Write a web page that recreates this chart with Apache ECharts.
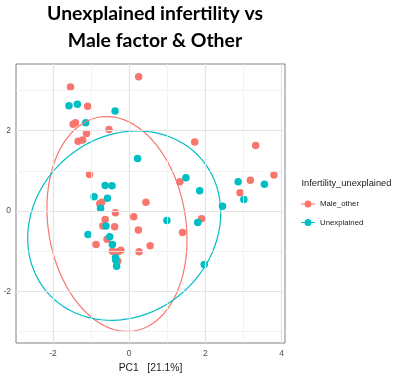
<!DOCTYPE html>
<html><head><meta charset="utf-8">
<script src="https://cdn.jsdelivr.net/npm/echarts@6/dist/echarts.min.js"></script>
<style>html,body{margin:0;padding:0;background:#fff}#c{width:409px;height:379px}</style>
</head><body><div id="c"></div>
<script>
// PCA scores [PC1, PC2]
const maleOther = [
  [-1.54,3.09],[0.25,3.34],[-1.09,2.61],[-1.47,2.16],[-1.41,2.20],[-0.53,2.03],
  [-1.12,1.93],[-1.34,1.74],[-1.22,1.77],[-1.04,0.91],[0.44,0.22],[-0.77,0.19],
  [-0.72,0.22],[-0.36,-0.04],[-0.63,-0.21],[0.12,-0.14],[-0.69,-0.37],[-0.38,-0.39],
  [0.24,-0.47],[-0.58,-0.70],[-0.87,-0.83],[0.55,-0.86],[-0.44,-1.00],[-0.22,-0.97],
  [-0.29,-1.01],[0.26,-1.01],[-0.30,-1.24],[1.72,1.72],[3.32,1.63],[1.33,0.73],
  [3.18,0.77],[3.80,0.90],[2.91,0.46],[1.90,-0.19],[1.40,-0.53]
];
const unexplained = [
  [-1.58,2.62],[-1.36,2.66],[-0.37,2.49],[-1.14,2.20],[0.22,1.31],[-0.63,0.64],
  [-0.45,0.63],[-0.92,0.36],[-0.57,0.32],[-0.75,0.07],[0.99,-0.23],[-0.61,-0.37],
  [-1.08,-0.58],[-0.51,-0.64],[-0.44,-0.83],[-0.36,-1.16],[-0.35,-1.22],[-0.33,-1.37],
  [1.49,0.83],[1.85,0.51],[2.86,0.73],[3.55,0.67],[3.01,0.29],[2.45,0.12],
  [1.80,-0.28],[1.97,-1.33]
];
const groupNames = ['Male_other','Unexplained'];
const xTicks = [-2,0,2,4];
const yTicks = [-2,0,2];
const xMinor = [-3,-1,1,3];
const yMinor = [-3,-1,1,3];
// ellipse: centre and shape matrix [sxx, sxy, syy] in data units
const maleEllipseCenter = [-0.32,-0.32];
const maleEllipseShape = [3.38,-0.72,7.15];
const unexpEllipseCenter = [-0.13,-0.36];
const unexpEllipseShape = [6.42,0.80,5.55];

const RED = '#F8766D', TEAL = '#00BFC4';

function ellipsePath(c, s, n) {
  const a = Math.sqrt(s[0]), b = s[1] / a, cc = Math.sqrt(s[2] - b * b);
  const out = [];
  for (let i = 0; i <= n; i++) {
    const t = 2 * Math.PI * i / n;
    out.push([c[0] + a * Math.cos(t), c[1] + b * Math.cos(t) + cc * Math.sin(t)]);
  }
  return out;
}

const gridLines = [];
xMinor.forEach(v => gridLines.push({xAxis: v, lineStyle: {color: '#F0F0F0', width: 0.8, type: 'solid'}}));
yMinor.forEach(v => gridLines.push({yAxis: v, lineStyle: {color: '#F0F0F0', width: 0.8, type: 'solid'}}));
xTicks.forEach(v => gridLines.push({xAxis: v, lineStyle: {color: '#E3E3E3', width: 1.2, type: 'solid'}}));
yTicks.forEach(v => gridLines.push({yAxis: v, lineStyle: {color: '#E3E3E3', width: 1.2, type: 'solid'}}));

const legendIcon = 'path://M0,3 L14,3 L14,4 L0,4 Z M10.5,3.5 A3.5,3.5 0 1 1 3.5,3.5 A3.5,3.5 0 1 1 10.5,3.5 Z';
const FONT = '"Liberation Sans", sans-serif';

const chart = echarts.init(document.getElementById('c'), null, {renderer: 'canvas'});
chart.setOption({
  animation: false,
  backgroundColor: '#fff',
  grid: {left: 16, right: 124, top: 64, bottom: 36, containLabel: false, outerBoundsMode: 'none',
         show: true, borderColor: '#808080', borderWidth: 1, backgroundColor: '#fff'},
  xAxis: {
    type: 'value', min: -2.97, max: 4.09,
    axisLine: {show: false},
    splitLine: {show: false},
    axisTick: {show: true, length: 3, customValues: xTicks, lineStyle: {color: '#333'}},
    axisLabel: {customValues: xTicks, margin: 6, fontFamily: FONT, fontSize: 8.5, color: '#4D4D4D'},
    name: 'PC1   [21.1%]', nameLocation: 'middle', nameGap: 16,
    nameTextStyle: {fontFamily: FONT, fontSize: 10.3, color: '#1a1a1a'}
  },
  yAxis: {
    type: 'value', min: -3.28, max: 3.66,
    axisLine: {show: false},
    splitLine: {show: false},
    axisTick: {show: true, length: 3, customValues: yTicks, lineStyle: {color: '#333'}},
    axisLabel: {customValues: yTicks, margin: 5, fontFamily: FONT, fontSize: 8.5, color: '#4D4D4D'},
    name: 'PC2   [15.4%]', nameLocation: 'middle', nameGap: 20, nameRotate: 90,
    nameTextStyle: {fontFamily: FONT, fontSize: 10.3, color: '#1a1a1a'}
  },
  legend: {
    data: groupNames, orient: 'vertical', left: 301, top: 199, padding: 0,
    itemWidth: 14, itemHeight: 7, itemGap: 8.4, icon: legendIcon,
    textStyle: {fontFamily: FONT, fontSize: 7.8, color: '#1a1a1a', lineHeight: 10}
  },
  graphic: [
    {type: 'text', x: 155, y: 27, style: {text: 'Unexplained infertility vs\nMale factor & Other', font: 'bold 19.4px Lato', fill: '#000', textAlign: 'center', textVerticalAlign: 'middle', lineHeight: 27}},
    {type: 'text', x: 301.5, y: 183.3, style: {text: 'Infertility_unexplained', font: '9.3px "Liberation Sans", sans-serif', fill: '#1a1a1a', textAlign: 'left', textVerticalAlign: 'middle'}}
  ],
  series: [
    {type: 'scatter', name: 'grid', data: [], silent: true, z: 1,
     markLine: {silent: true, symbol: 'none', label: {show: false}, animation: false, data: gridLines}},
    {type: 'scatter', name: groupNames[0], data: maleOther, symbolSize: 7.5, itemStyle: {color: RED, opacity: 1}, z: 3},
    {type: 'scatter', name: groupNames[1], data: unexplained, symbolSize: 7.5, itemStyle: {color: TEAL, opacity: 1}, z: 3},
    {type: 'line', name: groupNames[0], data: ellipsePath(maleEllipseCenter, maleEllipseShape, 90), showSymbol: false, symbol: 'none', smooth: false, lineStyle: {color: RED, width: 1.2}, itemStyle: {color: RED}, z: 4, silent: true},
    {type: 'line', name: groupNames[1], data: ellipsePath(unexpEllipseCenter, unexpEllipseShape, 90), showSymbol: false, symbol: 'none', smooth: false, lineStyle: {color: TEAL, width: 1.2}, itemStyle: {color: TEAL}, z: 4, silent: true}
  ]
});
</script>
</body></html>
